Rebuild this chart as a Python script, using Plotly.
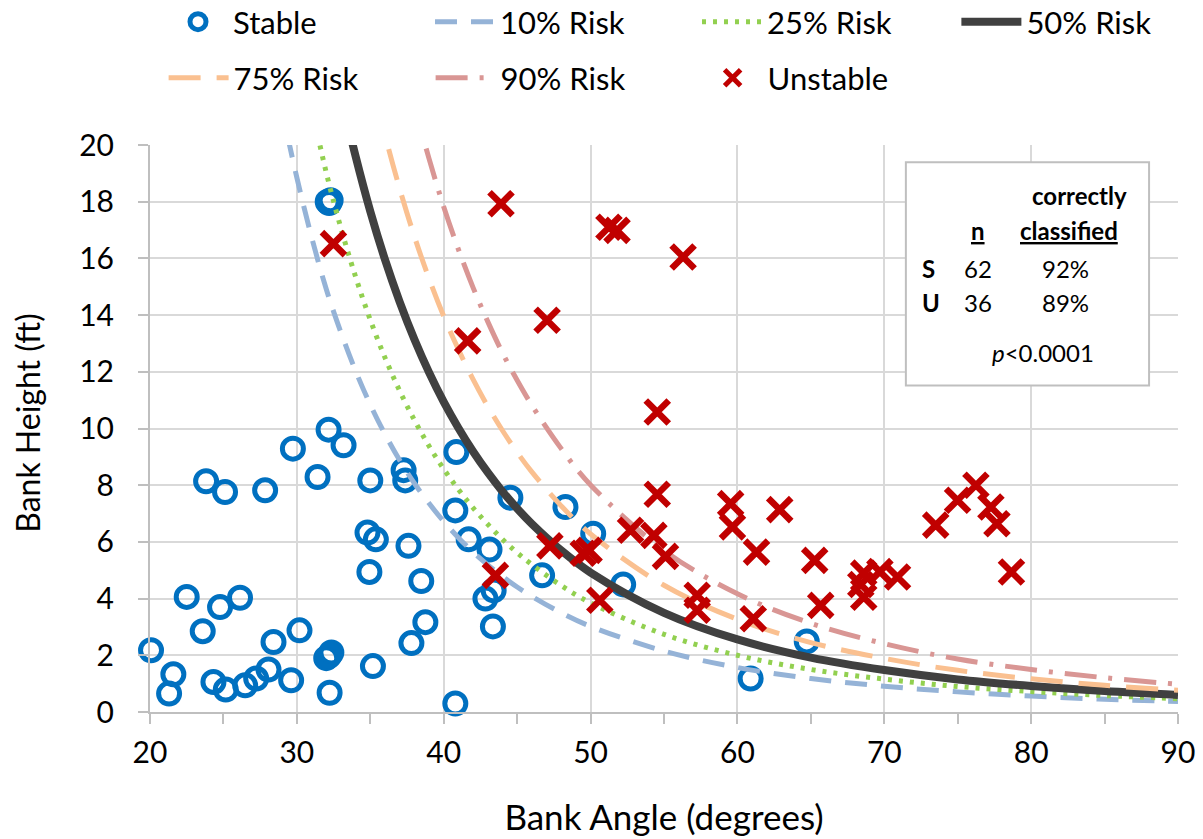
import plotly.graph_objects as go

# ---------------- data ----------------
stable_angle = [32.16, 29.73, 33.18, 23.82, 25.11, 27.84, 31.41, 35.0, 37.27, 37.38,
                40.86, 40.79, 41.7, 34.81, 35.38, 37.6, 34.94, 38.47, 22.5, 24.77,
                26.13, 23.59, 20.07, 21.59, 21.3, 24.32, 25.16, 26.48, 27.23, 28.07,
                28.41, 30.18, 29.61, 32.0, 32.35, 32.2, 32.23, 35.18, 37.8, 38.75,
                40.79, 44.54, 48.29, 50.18, 43.12, 46.70, 52.22, 43.4, 42.84, 43.35,
                60.9, 64.72, 32.1, 32.3, 32.2]
stable_height = [9.96, 9.29, 9.41, 8.14, 7.76, 7.82, 8.29, 8.17, 8.53, 8.17,
                 9.17, 7.11, 6.09, 6.33, 6.09, 5.86, 4.94, 4.62, 4.06, 3.70,
                 4.03, 2.85, 2.18, 1.33, 0.65, 1.06, 0.79, 0.94, 1.18, 1.50,
                 2.47, 2.88, 1.12, 1.9, 2.1, 1.98, 0.68, 1.62, 2.43, 3.17,
                 0.30, 7.56, 7.23, 6.29, 5.73, 4.82, 4.50, 4.29, 4.0, 3.02,
                 1.18, 2.49, 18.0, 18.05, 17.95]

unstable_angle = [32.49, 43.9, 51.25, 51.8, 56.3, 41.63, 47.04, 54.54, 54.54, 59.54,
                  59.66, 52.72, 54.31, 55.1, 47.23, 49.5, 49.9, 43.52, 50.63, 57.26,
                  57.26, 62.88, 61.3, 61.08, 65.26, 65.67, 68.6, 68.4, 68.6, 69.7,
                  70.9, 73.5, 74.99, 76.24, 77.26, 77.67, 78.66]
unstable_height = [16.52, 17.93, 17.1, 16.99, 16.05, 13.09, 13.82, 10.58, 7.68, 7.35,
                   6.53, 6.41, 6.23, 5.49, 5.86, 5.6, 5.7, 4.82, 3.94, 4.12,
                   3.59, 7.14, 5.64, 3.29, 5.35, 3.76, 4.9, 4.5, 4.05, 4.95,
                   4.76, 6.59, 7.47, 8.0, 7.23, 6.64, 4.94]

curve_angle = [28, 29, 30, 31, 32, 33, 34, 35, 36, 37, 38, 39, 40, 41, 42, 43, 44, 45,
               46, 48, 50, 55, 60, 65, 70, 75, 80, 85, 90]
risk10 = [24.07, 21.24, 18.85, 16.76, 14.92, 13.39, 12.03, 10.84, 9.80, 8.88, 8.07,
          7.36, 6.72, 6.15, 5.64, 5.19, 4.78, 4.41, 4.08, 3.50, 3.02, 2.15, 1.57,
          1.18, 0.91, 0.71, 0.56, 0.45, 0.37]
risk25 = [30.69, 27.09, 24.04, 21.38, 19.03, 17.07, 15.35, 13.83, 12.50, 11.33, 10.30,
          9.38, 8.57, 7.85, 7.20, 6.62, 6.09, 5.62, 5.20, 4.46, 3.85, 2.74, 2.00,
          1.50, 1.16, 0.90, 0.72, 0.58, 0.47]
risk50 = [39.2, 34.6, 30.7, 27.3, 24.3, 21.8, 19.6, 17.66, 15.96, 14.47, 13.15,
          11.98, 10.94, 10.02, 9.19, 8.45, 7.78, 7.18, 6.64, 5.70, 4.92, 3.50, 2.56,
          1.92, 1.48, 1.15, 0.92, 0.74, 0.60]
risk75 = [50.0, 44.15, 39.2, 34.83, 31.0, 27.82, 25.0, 22.53, 20.36, 18.46, 16.78,
          15.29, 13.96, 12.79, 11.73, 10.78, 9.93, 9.16, 8.47, 7.27, 6.28, 4.47, 3.27,
          2.45, 1.89, 1.47, 1.17, 0.94, 0.77]
risk90 = [63.9, 56.36, 50.0, 44.47, 39.58, 35.51, 31.93, 28.77, 26.0, 23.57, 21.42,
          19.52, 17.82, 16.32, 14.97, 13.77, 12.67, 11.70, 10.82, 9.29, 8.01, 5.70, 4.17,
          3.13, 2.41, 1.87, 1.50, 1.21, 0.98]

x_ticks = [20, 30, 40, 50, 60, 70, 80, 90]
y_ticks = [0, 2, 4, 6, 8, 10, 12, 14, 16, 18, 20]

FONT = "Lato"
BLUE = "#0070C0"
RED = "#C00000"

fig = go.Figure()

fig.add_trace(go.Scatter(
    x=stable_angle, y=stable_height, mode="markers", name="Stable",
    marker=dict(symbol="circle-open", size=21, color=BLUE, line=dict(width=5, color=BLUE)),
    cliponaxis=False, legend="legend"))

curves = [
    ("10% Risk", risk10, "#95B3D7", 5, "22px,14px", "legend"),
    ("25% Risk", risk25, "#92D050", 5, "4px,7px", "legend"),
    ("50% Risk", risk50, "#404040", 8, "solid", "legend3"),
    ("75% Risk", risk75, "#FAC090", 5, "32px,16px", "legend2"),
    ("90% Risk", risk90, "#D99694", 5, "32px,12px,4px,12px", "legend2"),
]
for name, ys, col, w, dash, lg in curves:
    fig.add_trace(go.Scatter(
        x=curve_angle, y=ys, mode="lines", name=name,
        line=dict(color=col, width=w, dash=dash, shape="spline", smoothing=1.0),
        legend=lg))

fig.add_trace(go.Scatter(
    x=unstable_angle, y=unstable_height, mode="markers", name="Unstable",
    marker=dict(symbol="x-thin-open", size=23, color=RED, line=dict(width=6.5, color=RED)),
    cliponaxis=False, legend="legend2"))

# annotation box
fig.add_shape(type="rect", xref="x", yref="y", x0=71.47, x1=88.03, y0=11.52, y1=19.39,
              line=dict(color="#BFBFBF", width=2), fillcolor="white", layer="above")

ann_font = dict(family=FONT, size=24, color="black")
ann = [
    (83.26, 18.23, "<b>correctly</b>"),
    (76.37, 16.99, "<b><u>n</u></b>"),
    (82.58, 16.99, "<b><u>classified</u></b>"),
    (73.03, 15.65, "<b>S</b>"),
    (76.37, 15.65, "62"),
    (82.37, 15.65, "92%"),
    (73.17, 14.45, "<b>U</b>"),
    (76.37, 14.45, "36"),
    (82.37, 14.45, "89%"),
    (80.8, 12.69, "<i>p</i>&lt;0.0001"),
]
for ax_, ay_, t in ann:
    fig.add_annotation(x=ax_, y=ay_, xref="x", yref="y", text=t, showarrow=False,
                       font=ann_font, xanchor="center", yanchor="middle")

# y-axis title (placed as paper annotation to match original position)
fig.add_annotation(x=-0.1187, y=0.51, xref="paper", yref="paper",
                   text="Bank Height (ft)", textangle=-90, showarrow=False,
                   font=dict(family=FONT, size=32, color="black"),
                   xanchor="center", yanchor="middle")

leg_common = dict(orientation="h", font=dict(family=FONT, size=31, color="black"),
                  entrywidth=192, entrywidthmode="pixels", itemwidth=60,
                  bgcolor="rgba(0,0,0,0)", xanchor="left", yanchor="middle",
                  xref="container", yref="container",
                  itemsizing="trace", itemclick=False)

fig.update_layout(
    width=1203, height=839,
    margin=dict(l=150, r=25, t=145, b=127, autoexpand=False),
    paper_bgcolor="white", plot_bgcolor="white",
    font=dict(family=FONT, size=30, color="black"),
    showlegend=True,
    legend=dict(x=0.1355, y=0.9738, **leg_common),
    legend3=dict(x=0.795, y=0.9738, **leg_common),
    legend2=dict(x=0.136, y=0.907, **leg_common),
    xaxis=dict(range=[20, 90], tickvals=x_ticks, showgrid=True, gridcolor="#D9D9D9",
               gridwidth=2, showline=True, linecolor="#BFBFBF", linewidth=2,
               ticks="outside", ticklen=10, tickcolor="#BFBFBF", tickwidth=2,
               minor=dict(ticks="outside", ticklen=10, tickcolor="#BFBFBF", tickwidth=2,
                          dtick=5, showgrid=False),
               tickfont=dict(family=FONT, size=30), ticklabelstandoff=3,
               zeroline=False, automargin=False,
               title=dict(text="Bank Angle (degrees)", font=dict(family=FONT, size=35),
                          standoff=37)),
    yaxis=dict(range=[0, 20], tickvals=y_ticks, showgrid=True, gridcolor="#D9D9D9",
               gridwidth=2, showline=True, linecolor="#BFBFBF", linewidth=2,
               ticks="outside", ticklen=10, tickcolor="#BFBFBF", tickwidth=2,
               tickfont=dict(family=FONT, size=30), ticklabelstandoff=18,
               zeroline=False, automargin=False),
)

fig.write_html("out.html", config={"displayModeBar": False},
               post_script="document.body.style.margin='0px';")
